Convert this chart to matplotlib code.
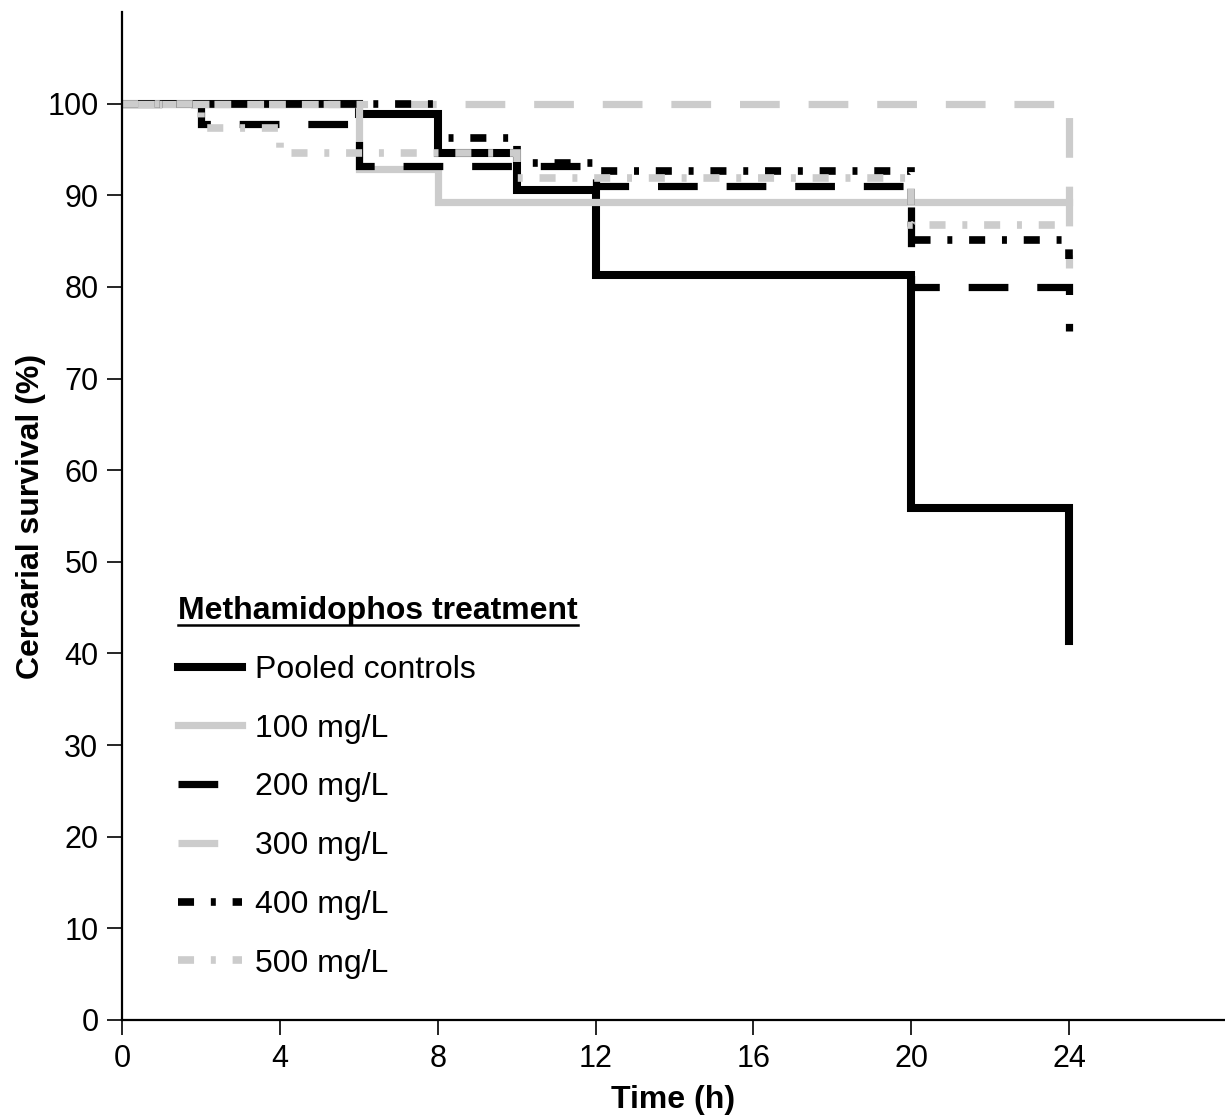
import numpy as np
import matplotlib
matplotlib.use("Agg")
import matplotlib.pyplot as plt
from matplotlib.lines import Line2D

plt.rcParams["font.family"] = ["Liberation Sans", "DejaVu Sans"]

# ── data ────────────────────────────────────────────────────────────────────
t_ctrl = [0, 6, 8, 10, 12, 20, 24]
s_ctrl = [100, 98.9, 94.6, 90.6, 81.3, 55.9, 41.4]

t_100 = [0, 6, 8, 24]
s_100 = [100, 92.9, 89.3, 89.3]

t_200 = [0, 2, 6, 12, 20, 24]
s_200 = [100, 97.8, 93.2, 91.0, 80.0, 75.2]

t_300 = [0, 24]
s_300 = [100, 82.1]

t_400 = [0, 8, 10, 12, 20, 24]
s_400 = [100, 96.2, 93.5, 92.7, 85.1, 83.0]

t_500 = [0, 2, 4, 10, 20, 24]
s_500 = [100, 97.3, 94.6, 91.9, 86.7, 86.7]

labels = ["Pooled controls", "100 mg/L", "200 mg/L", "300 mg/L", "400 mg/L", "500 mg/L"]
x_ticks = [0, 4, 8, 12, 16, 20, 24]
y_ticks = list(range(0, 101, 10))

GREY = "#cccccc"
FS = 22      # tick labels
FS_L = 23    # axis labels / legend

# ── plot ────────────────────────────────────────────────────────────────────
fig = plt.figure(figsize=(12.25, 11.2), dpi=100)
ax = fig.add_axes([0.0996, 0.0893, 0.9004, 0.90])

dash = (0, (5.5, 4))
dashdot = (0, (2.1, 2.2, 0.65, 2.2))

series = [
    (t_ctrl, s_ctrl, "black", "-", 5.8),
    (t_100, s_100, GREY, "-", 5.2),
    (t_200, s_200, "black", dash, 5.2),
    (t_300, s_300, GREY, dash, 5.2),
    (t_400, s_400, "black", dashdot, 5.5),
    (t_500, s_500, GREY, dashdot, 5.5),
]
handles = []
for (t, s, c, ls, lw), lab in zip(series, labels):
    ln, = ax.plot(t, s, drawstyle="steps-post", color=c, linestyle=ls, lw=lw,
                  solid_joinstyle="miter", dash_joinstyle="miter", label=lab)
    handles.append(ln)

ax.set_xlim(0, 27.95)
ax.set_ylim(0, 110)
ax.set_xticks(x_ticks)
ax.set_yticks(y_ticks)
ax.tick_params(direction="out", length=11, width=1.2, labelsize=FS, pad=6)
for side in ["top", "right"]:
    ax.spines[side].set_visible(False)
for side in ["left", "bottom"]:
    ax.spines[side].set_linewidth(1.6)

ax.set_xlabel("Time (h)", fontsize=FS_L, fontweight="bold", labelpad=8)
ax.set_ylabel("Cercarial survival (%)", fontsize=FS_L, fontweight="bold", labelpad=1)

leg = ax.legend(handles=handles, loc="upper left", bbox_to_anchor=(0.025, 0.449),
                frameon=False, fontsize=FS_L, title="Methamidophos treatment",
                title_fontproperties={"weight": "bold", "size": FS_L},
                alignment="left", handlelength=2.0, handletextpad=0.4,
                labelspacing=0.9)

# underline the legend title
fig.canvas.draw()
bb = leg.get_title().get_window_extent().transformed(fig.transFigure.inverted())
fig.add_artist(Line2D([bb.x0, bb.x1], [bb.y0 + 0.001, bb.y0 + 0.001],
                      color="black", lw=1.8, transform=fig.transFigure))

fig.savefig("out.png", dpi=100)
